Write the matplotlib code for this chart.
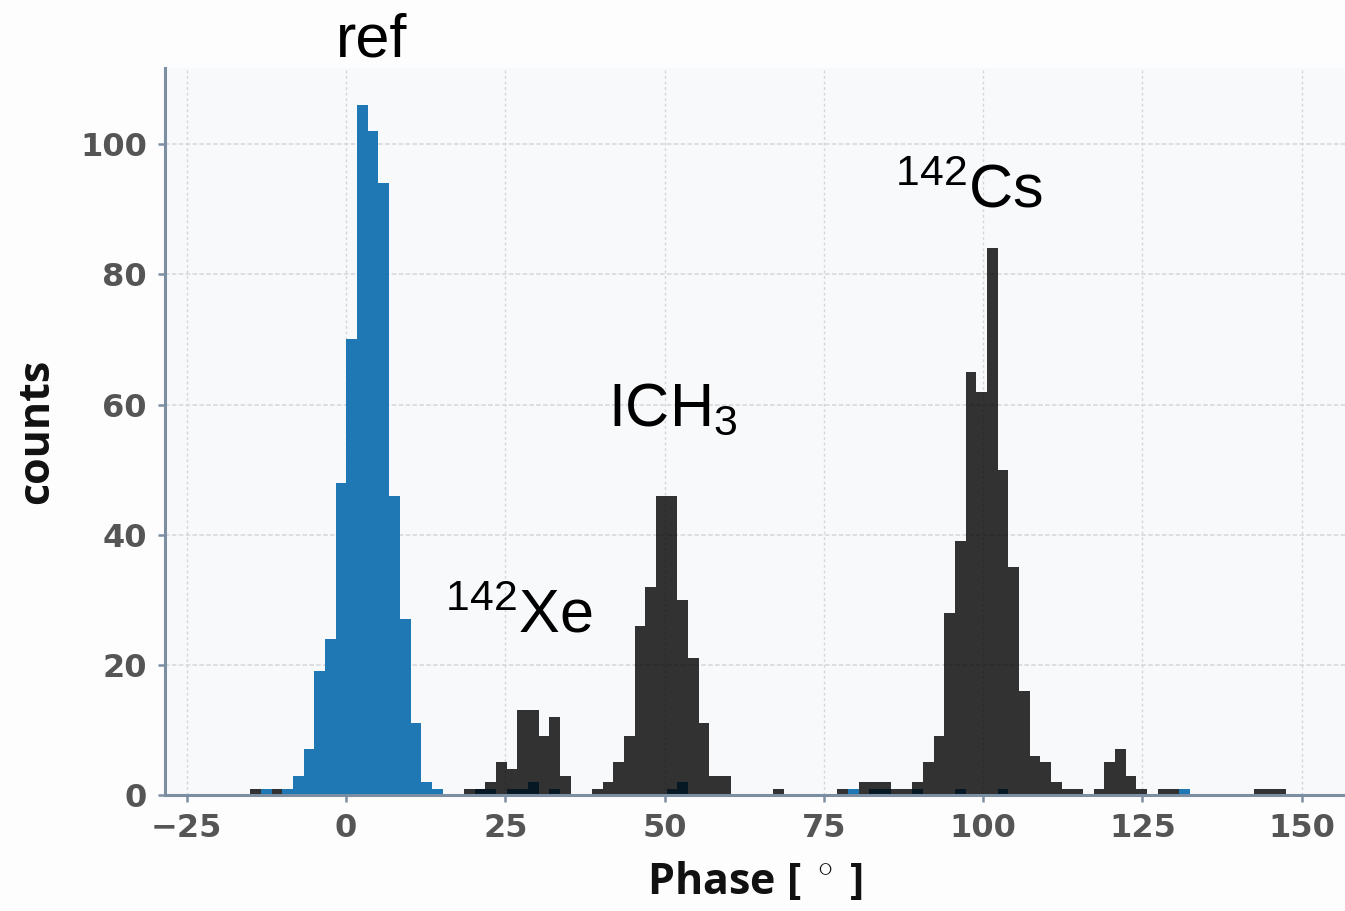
import numpy as np
import matplotlib.pyplot as plt

# phase histogram: reference ions (blue) and measured ions (dark)
edges = np.linspace(-15, 147.5, 98)

ref_counts = [
    0, 1, 0, 1, 3, 7, 19, 24, 48, 70,
    106, 102, 94, 46, 27, 11, 2, 1, 0, 0,
    0, 1, 1, 0, 1, 1, 2, 0, 1, 0,
    0, 0, 0, 0, 0, 0, 0, 0, 0, 1,
    2, 0, 0, 0, 0, 0, 0, 0, 0, 0,
    0, 0, 0, 0, 0, 0, 1, 0, 1, 1,
    0, 0, 1, 0, 0, 0, 1, 0, 0, 0,
    1, 0, 0, 0, 0, 0, 0, 0, 0, 0,
    0, 0, 0, 0, 0, 0, 0, 1, 0, 0,
    0, 0, 0, 0, 0, 0, 0,
]

ion_counts = [
    1, 0, 1, 0, 0, 0, 0, 0, 0, 0,
    0, 0, 0, 0, 0, 0, 0, 0, 0, 0,
    1, 1, 2, 5, 4, 13, 13, 9, 12, 3,
    0, 0, 1, 2, 5, 9, 26, 32, 46, 46,
    30, 21, 11, 3, 3, 0, 0, 0, 0, 1,
    0, 0, 0, 0, 0, 1, 0, 2, 2, 2,
    1, 1, 2, 5, 9, 28, 39, 65, 62, 84,
    50, 35, 16, 6, 5, 2, 1, 1, 0, 1,
    5, 7, 3, 1, 0, 1, 1, 0, 0, 0,
    0, 0, 0, 0, 1, 1, 1,
]

xticks = [-25, 0, 25, 50, 75, 100, 125, 150]
yticks = [0, 20, 40, 60, 80, 100]

plt.rcParams['mathtext.fontset'] = 'custom'
plt.rcParams['mathtext.rm'] = 'Liberation Sans'
plt.rcParams['mathtext.it'] = 'Liberation Sans:italic'

fig = plt.figure(figsize=(13.45, 9.11), dpi=100)
fig.patch.set_facecolor('#fdfdfe')
ax = fig.add_axes([0.1227, 0.1273, 0.8773, 0.798])
ax.set_facecolor('#f8f9fb')

ax.stairs(ref_counts, edges, fill=True, color='#1f77b4', zorder=2)
ax.stairs(ion_counts, edges, fill=True, color='black', alpha=0.8, zorder=3)

ax.set_xlim(-28.4, 156.8)
ax.set_ylim(0, 111.7)
ax.set_xticks(xticks)
ax.set_yticks(yticks)

ax.set_axisbelow(True)
ax.grid(axis='y', color='#d4d6da', linestyle=(0, (3, 1.5)), linewidth=1.1)
ax.grid(axis='x', color='#d4d6da', linestyle=(0, (2, 2)), linewidth=1.0)

spine_col = '#7b8ea2'
for s in ['top', 'right']:
    ax.spines[s].set_visible(False)
for s in ['left', 'bottom']:
    ax.spines[s].set_color(spine_col)
    ax.spines[s].set_linewidth(2.2)
    ax.spines[s].set_zorder(4)

ax.tick_params(colors=spine_col, length=5, width=1.8, pad=8,
               labelcolor='#555555', labelsize=23)
for lab in ax.get_xticklabels() + ax.get_yticklabels():
    lab.set_fontweight('bold')

ax.set_ylabel('counts', family='Open Sans', fontweight='bold', fontsize=31,
              color='#111111', labelpad=16)
ax.set_xlabel('Phase [ $^\\circ$ ]', family='Open Sans', fontweight='bold',
              fontsize=31, color='#111111', labelpad=12)

# peak labels
lab_kw = dict(fontsize=44, color='black', family='Liberation Sans',
              va='baseline', ha='left', clip_on=False)
ax.text(-1.6, 113.4, 'ref', **lab_kw)
ax.text(15.5, 24.9, r'$\mathregular{^{142}Xe}$', **lab_kw)
ax.text(41.1, 56.8, r'$\mathregular{ICH_3}$', **lab_kw)
ax.text(86.2, 90.3, r'$\mathregular{^{142}Cs}$', **lab_kw)

fig.savefig('out.png', dpi=100, facecolor=fig.get_facecolor())
